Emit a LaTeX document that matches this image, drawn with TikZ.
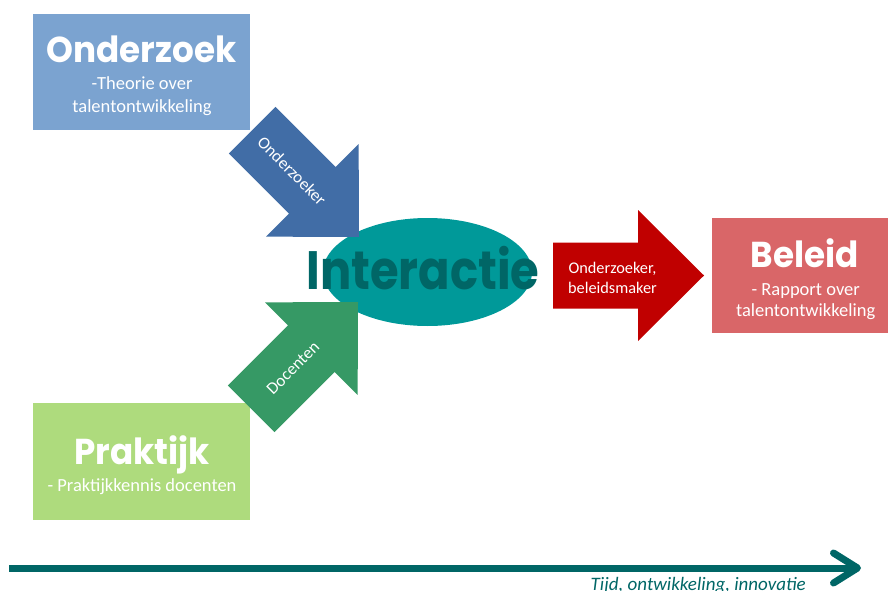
\documentclass[tikz,border=0pt]{standalone}
\usepackage{fontspec}
\setmainfont{Carlito}
\newfontfamily\titlefont{Poppins}[FakeStretch=0.95]
\newfontfamily\hubfont{Poppins}[FakeStretch=0.86]
\usetikzlibrary{shapes.geometric,arrows.meta}

\definecolor{researchblue}{RGB}{123,163,208}
\definecolor{arrowblue}{RGB}{65,109,166}
\definecolor{practicegreen}{RGB}{174,219,125}
\definecolor{arrowgreen}{RGB}{54,153,101}
\definecolor{policyred}{RGB}{217,102,104}
\definecolor{arrowred}{RGB}{192,0,0}
\definecolor{hubteal}{RGB}{0,153,153}
\definecolor{darkteal}{RGB}{0,102,102}

\tikzset{
  % wide block arrow, tip at the origin, pointing along +x
  blockarrow/.pic={
    \path[pic actions] (0,0) -- (-66,65.5) -- (-66,33) -- (-151,33)
      -- (-151,-33) -- (-66,-33) -- (-66,-65.5) -- cycle;
  },
  panel/.style={rectangle, draw=none, inner sep=0pt, minimum width=217pt, minimum height=116pt},
  headline/.style={text=white, anchor=base, inner sep=0pt, font=\titlefont\bfseries\fontsize{36}{40}\selectfont},
  bodyline/.style={text=white, anchor=base, inner sep=0pt, font=\fontsize{18.5}{22}\selectfont},
  arrowtext/.style={text=white, inner sep=0pt, font=\fontsize{17}{20}\selectfont},
  timeline/.style={draw=darkteal, line width=7pt, -{Straight Barb[length=24pt, width=30pt, line join=round, line cap=round]}},
}

\begin{document}
\begin{tikzpicture}[x=1pt, y=-1pt]
  \useasboundingbox (0,0) rectangle (888,591);

  % source and target panels
  \node[panel, fill=researchblue] (research) at (141.5,72) {};
  \node[panel, fill=practicegreen, minimum height=117pt] (practice) at (141.5,461.5) {};
  \node[panel, fill=policyred, minimum width=178pt, minimum height=115pt] (policy) at (801,275.5) {};

  \node[headline] (researchTitle) at (141.5,62.5) {Onderzoek};
  \node[bodyline] (researchLineA) at (142,90) {-Theorie over};
  \node[bodyline] (researchLineB) at (142,112.7) {talentontwikkeling};

  \node[headline] (practiceTitle) at (142,464) {Praktijk};
  \node[bodyline] (practiceLine) at (142,491) {- Praktijkkennis docenten};

  \node[headline] (policyTitle) at (805,267) {Beleid};
  \node[bodyline] (policyLineA) at (805.7,295) {- Rapport over};
  \node[bodyline] (policyLineB) at (805.7,316) {talentontwikkeling};

  % central meeting point
  \node[ellipse, fill=hubteal, inner sep=0pt, minimum width=209pt, minimum height=108pt] (hub) at (427.5,272) {};

  % block arrows feeding into and out of the hub
  \pic[fill=arrowblue, rotate=-45] (inArrowTop) at (359,237) {blockarrow};
  \pic[fill=arrowgreen, rotate=45] (inArrowBottom) at (358,302) {blockarrow};
  \pic[fill=arrowred] (outArrow) at (704,275.5) {blockarrow};

  \node[arrowtext, rotate=-45] (researcherLabel) at (292,171) {Onderzoeker};
  \node[arrowtext, rotate=45] (teacherLabel) at (293,368) {Docenten};
  \node[arrowtext, anchor=base, font=\fontsize{16.3}{19}\selectfont] (actorsA) at (612.5,273) {Onderzoeker,};
  \node[arrowtext, anchor=base, font=\fontsize{16.3}{19}\selectfont] (actorsB) at (612.5,293) {beleidsmaker};

  \node[anchor=base, inner sep=0pt, text=darkteal, font=\hubfont\bfseries\fontsize{54}{60}\selectfont] (hubTitle) at (423,289) {Interactie};

  % time axis
  \coordinate (axisStart) at (9,568);
  \coordinate (axisEnd) at (861,568);
  \draw[timeline] (axisStart) -- (axisEnd);
  \node[anchor=base east, inner sep=0pt, text=darkteal, font=\itshape\fontsize{19}{22}\selectfont] (axisLabel) at (806,590) {Tijd, ontwikkeling, innovatie};
\end{tikzpicture}
\end{document}
